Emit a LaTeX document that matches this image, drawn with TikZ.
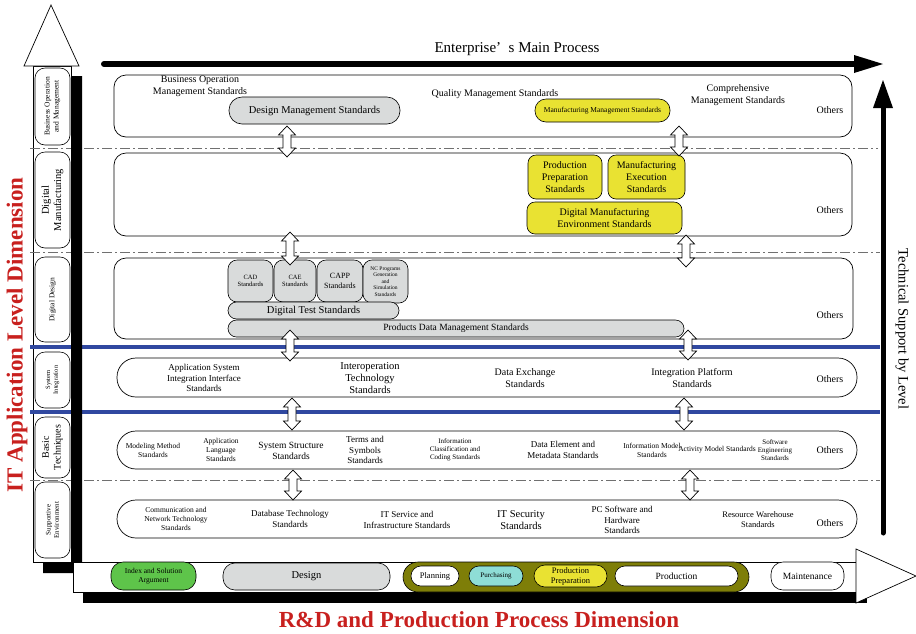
\documentclass[tikz,border=0pt]{standalone}
\usepackage{fontspec}
\setmainfont{Liberation Serif}
\usetikzlibrary{calc}
\definecolor{boxgray}{HTML}{D9DBDB}
\definecolor{boxyellow}{HTML}{E9E232}
\definecolor{boxgreen}{HTML}{5EC44A}
\definecolor{boxcyan}{HTML}{8EDDD6}
\definecolor{olive}{HTML}{7E7E08}
\definecolor{levelblue}{HTML}{3048A0}
\definecolor{dimred}{HTML}{C8201E}
\definecolor{sepgray}{HTML}{707070}

% node placed by its corners: name, style, x1, y1, x2, y2, text
\newcommand\placebox[7]{\node[#2,minimum width={#5-#3},minimum height={#6-#4}] (#1) at ({(#3+#5)/2},{(#4+#6)/2}) {#7};}
% hollow two-headed block arrow: x, top y, bottom y
\newcommand\updown[3]{\draw[harrow] (#1,#2) -- (#1+8.5,#2+9) -- (#1+4,#2+9) -- (#1+4,#3-9) -- (#1+8.5,#3-9) -- (#1,#3) -- (#1-8.5,#3-9) -- (#1-4,#3-9) -- (#1-4,#2+9) -- (#1-8.5,#2+9) -- cycle;}

\begin{document}
\begin{tikzpicture}[x=1pt,y=-1pt,
  fs/.code={\pgfmathsetmacro\lsk{1.18*#1}\edef\tmp{\noexpand\tikzset{font=\noexpand\fontsize{#1}{\lsk}\noexpand\selectfont}}\tmp},
  lbl/.style={inner sep=0pt,align=center},
  rowbox/.style={draw,line width=0.7pt,fill=white,rounded corners=12pt,inner sep=0pt},
  pillrow/.style={draw,line width=0.7pt,fill=white,rounded corners=19pt,inner sep=0pt},
  colbox/.style={draw,line width=0.6pt,fill=white,rounded corners=10pt,inner sep=0pt,align=center},
  gbox/.style={draw,line width=0.6pt,fill=boxgray,inner sep=0pt,align=center,rounded corners=#1},
  gbox/.default=8pt,
  ybox/.style={draw,line width=0.6pt,fill=boxyellow,inner sep=0pt,align=center,rounded corners=#1},
  ybox/.default=8pt,
  harrow/.style={draw,fill=white,line width=0.7pt,line join=miter},
  sep/.style={sepgray,line width=1pt,dash pattern=on 10pt off 3pt on 2pt off 3pt},
  level/.style={levelblue,line width=4pt},
  stage/.style={draw,line width=0.6pt,inner sep=0pt,align=center,rounded corners=10pt},
]
\useasboundingbox (0,0) rectangle (916,633);

% ---------- level axis (left column) ----------
\draw[line width=0.7pt,fill=white] (33,66) rectangle (71,562);
\draw[line width=0.7pt,fill=white] (24,66) -- (51,5) -- (79,66) -- cycle;

% ---------- separators ----------
\draw[sep] (30,148) -- (878,148);
\draw[sep] (30,252) -- (880,252);
\draw[sep] (30,480) -- (880,480);
\draw[level] (30,347) -- (880,347);
\draw[level] (30,412) -- (880,412);

% shadow of the level axis
\fill[black] (71,76) -- (82,76) -- (82,573) -- (43,573) -- (43,562) -- (71,562) -- cycle;

% level labels
\placebox{lbom}{colbox}{35}{68}{70}{145}{}
\placebox{ldm}{colbox}{35}{152}{70}{248}{}
\placebox{ldd}{colbox}{35}{257}{70}{342}{}
\placebox{lsi}{colbox}{35}{352}{70}{408}{}
\placebox{lbt}{colbox}{35}{417}{70}{478}{}
\placebox{lse}{colbox}{35}{482}{70}{558}{}
\node[lbl,fs=7.5,rotate=90] (tbom) at (lbom) {Business Operation\\and Management};
\node[lbl,fs=10.5,rotate=90] (tdm) at (ldm) {Digital\\Manufacturing};
\node[lbl,fs=7.5,rotate=90] (tdd) at (ldd) {Digital Design};
\node[lbl,fs=6.5,rotate=90] (tsi) at (lsi) {System\\Integration};
\node[lbl,fs=10,rotate=90] (tbt) at (lbt) {Basic\\Techniques};
\node[lbl,fs=7,rotate=90] (tse) at (lse) {Supportive\\Environment};

% ---------- main process arrow (top) ----------
\draw[line width=6pt,line cap=round] (104,64) -- (856,64);
\fill[black] (854,55) -- (883,64) -- (854,73) -- cycle;
\node[lbl,fs=15] (mainproc) at (517,49) {Enterprise’\hspace{0.5em}s Main Process};

% ---------- technical support arrow (right) ----------
\draw[line width=5pt,line cap=round] (883,533) -- (883,104);
\fill[black] (873,108) -- (883,80) -- (893,108) -- cycle;
\node[lbl,fs=14.5,rotate=-90] (techsup) at (902,329) {Technical Support by Level};

% ---------- level rows ----------
\placebox{r1}{rowbox}{114}{75}{852}{137}{}
\placebox{r2}{rowbox}{114}{153}{852}{236}{}
\placebox{r3}{rowbox}{114}{258}{853}{339}{}
\placebox{r4}{pillrow}{117}{358}{857}{397}{}
\placebox{r5}{pillrow}{117}{431}{857}{469}{}
\placebox{r6}{pillrow}{117}{500}{857}{538}{}

% row 1: business operation and management
\node[lbl,fs=10] (bom) at (200,86) {Business Operation\\Management Standards};
\placebox{dms}{gbox=13pt,fs=10.5}{229}{97}{400}{124}{Design Management Standards}
\node[lbl,fs=10] (qms) at (495,94) {Quality Management Standards};
\placebox{mms}{ybox=11pt,fs=7.5}{535}{99}{670}{122}{Manufacturing Management Standards}
\node[lbl,fs=10] (cms) at (738,95) {Comprehensive\\Management Standards};
\node[lbl,fs=10] (o1) at (830,110) {Others};

% row 2: digital manufacturing
\placebox{pps}{ybox,fs=10}{528}{155}{602}{199}{Production\\Preparation\\Standards}
\placebox{mes}{ybox,fs=10}{608}{155}{685}{199}{Manufacturing\\Execution\\Standards}
\placebox{dmes}{ybox,fs=10}{527}{202}{682}{234}{Digital Manufacturing\\Environment Standards}
\node[lbl,fs=10] (o2) at (830,210) {Others};

% row 3: digital design
\placebox{cad}{gbox=9pt,fs=6.5}{228}{260}{273}{302}{CAD\\Standards}
\placebox{cae}{gbox=9pt,fs=6.5}{274}{260}{316}{302}{CAE\\Standards}
\placebox{capp}{gbox=9pt,fs=8}{317}{260}{363}{302}{CAPP\\Standards}
\placebox{nc}{gbox=9pt,fs=5.5}{363}{260}{408}{303}{NC Programs\\Generation\\and\\Simulation\\Standards}
\placebox{dts}{gbox=8.5pt,fs=10.5}{228}{302}{399}{319}{Digital Test Standards}
\placebox{pdm}{gbox=8.5pt,fs=9.5}{228}{320}{684}{337}{Products Data Management Standards}
\node[lbl,fs=10] (o3) at (830,315) {Others};

% row 4: system integration
\node[lbl,fs=9] (asi) at (204,378) {Application System\\Integration Interface\\Standards};
\node[lbl,fs=10.5] (iop) at (370,378) {Interoperation\\Technology\\Standards};
\node[lbl,fs=10] (dex) at (525,378) {Data Exchange\\Standards};
\node[lbl,fs=10] (ipf) at (692,378) {Integration Platform\\Standards};
\node[lbl,fs=10] (o4) at (830,379) {Others};

% row 5: basic techniques
\node[lbl,fs=7.5] (mm) at (153,450) {Modeling Method\\Standards};
\node[lbl,fs=7.5] (al) at (221,450) {Application\\Language\\Standards};
\node[lbl,fs=9.5] (ss) at (291,451) {System Structure\\Standards};
\node[lbl,fs=9] (ts) at (365,450) {Terms and\\Symbols\\Standards};
\node[lbl,fs=7] (icc) at (455,450) {Information\\Classification and\\Coding Standards};
\node[lbl,fs=9] (dem) at (563,450) {Data Element and\\Metadata Standards};
\node[lbl,fs=7.5] (imo) at (652,450) {Information Model\\Standards};
\node[lbl,fs=7.5] (amo) at (717,450) {Activity Model Standards};
\node[lbl,fs=7] (swe) at (775,450) {Software\\Engineering\\Standards};
\node[lbl,fs=10] (o5) at (830,450) {Others};

% row 6: supportive environment
\node[lbl,fs=7.5] (cnt) at (176,519) {Communication and\\Network Technology\\Standards};
\node[lbl,fs=9] (dbt) at (290,519) {Database Technology\\Standards};
\node[lbl,fs=9] (itsi) at (407,520) {IT Service and\\Infrastructure Standards};
\node[lbl,fs=10.5] (itse) at (521,520) {IT Security\\Standards};
\node[lbl,fs=9] (pcs) at (622,520) {PC Software and\\Hardware\\Standards};
\node[lbl,fs=8.5] (rws) at (758,520) {Resource Warehouse\\Standards};
\node[lbl,fs=10] (o6) at (830,523) {Others};

% ---------- links between levels ----------
\updown{287}{126}{157}
\updown{679}{126}{156}
\updown{290}{232}{265}
\updown{686}{235}{267}
\updown{290}{330}{361}
\updown{688}{330}{360}
\updown{292}{398}{430}
\updown{684}{398}{430}
\updown{293}{470}{500}
\updown{690}{470}{500}

% ---------- R&D and production process axis (bottom) ----------
\fill[black] (83,572) -- (867,572) -- (867,603) -- (83,603) -- cycle;
\draw[line width=0.7pt,fill=white] (73,562) rectangle (856,592);
\draw[line width=0.7pt,fill=white] (856,549) -- (916,576) -- (856,603) -- cycle;

\placebox{isa}{stage,fill=boxgreen,fs=7.5,rounded corners=12pt}{111}{562}{196}{590}{Index and Solution\\Argument}
\placebox{des}{stage,fill=boxgray,fs=10.5,rounded corners=12pt}{223}{563}{390}{590}{Design}
\placebox{mfg}{stage,fill=olive,rounded corners=15pt}{403}{562}{749}{592}{}
\placebox{pln}{stage,fill=white,fs=8.5}{411}{566}{459}{586}{Planning}
\placebox{pur}{stage,fill=boxcyan,fs=7}{469}{566}{523}{586}{Purchasing}
\placebox{ppr}{stage,fill=boxyellow,fs=8.5,rounded corners=11pt}{534}{565}{607}{587}{Production\\Preparation}
\placebox{prd}{stage,fill=white,fs=9.5}{615}{566}{738}{586}{Production}
\placebox{mnt}{stage,fill=white,fs=9.5,rounded corners=12pt}{771}{562}{844}{590}{Maintenance}

% ---------- dimension titles ----------
\node[lbl,font=\fontsize{23}{26}\selectfont\bfseries,text=dimred,rotate=90] (itdim) at (17,335) {IT Application Level Dimension};
\node[lbl,font=\fontsize{23}{26}\selectfont\bfseries,text=dimred] (rddim) at (479,620) {R\&D and Production Process Dimension};
\end{tikzpicture}
\end{document}
